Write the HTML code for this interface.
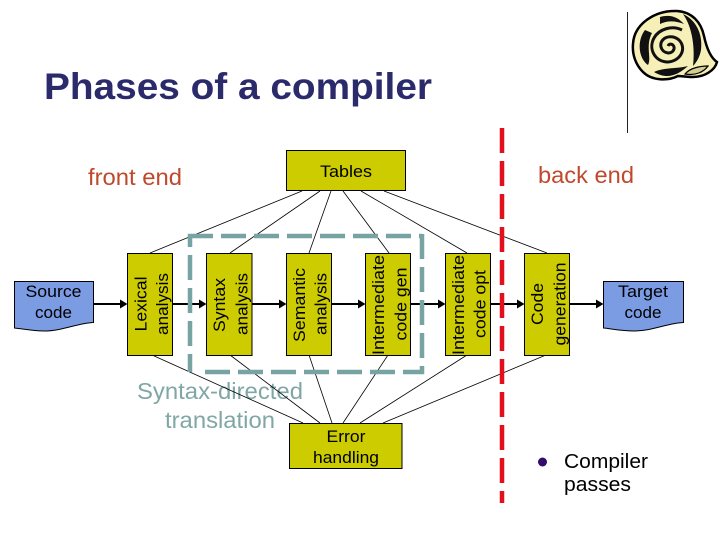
<!DOCTYPE html>
<html><head><meta charset="utf-8"><style>
html,body{margin:0;padding:0;background:#fff;width:720px;height:540px;overflow:hidden}
svg{display:block}
text{font-family:"Liberation Sans",sans-serif}
.l{font-size:17px;fill:#000;text-anchor:middle}
.b{fill:#cccc00;stroke:#000;stroke-width:1}
.d{fill:#7b9be2;stroke:#000;stroke-width:1}
.t{stroke:#000;stroke-width:.8;fill:none}
.a{stroke:#000;stroke-width:2;fill:none}
.f{stroke:#77a3a3;stroke-width:4.500;stroke-dasharray:25 8;fill:none}
</style></head><body>
<svg width="720" height="540" viewBox="0 0 720 540" xmlns="http://www.w3.org/2000/svg">
<line x1="627.500" y1="12" x2="627.500" y2="133" stroke="#222" stroke-width="1"/>
<!-- scroll -->
<path d="M633 44C634 24 655 10 677 11C692 12 701 22 704 36C707 50 711 58 717 62C715 70 705 77 693 77C686 77 682 76 678 76C668 81 652 81 643 72C636 65 632 55 633 44Z" fill="#f6f0b8" stroke="#000" stroke-width="2.500"/>
<path d="M683 14C696 20 703 34 701 50C700 56 697 62 693 66C695 50 693 28 683 14Z" fill="#111"/>
<path d="M645 30C637 40 638 58 648 65C652 58 645 46 652 33Z" fill="#111"/>
<path d="M654 72C667 80 678 75 688 66C677 69 665 67 654 72Z" fill="#111"/>
<path d="M660 17C670 14 678 17 684 24C676 21 668 20 660 24Z" fill="#111"/>
<path d="M668 46C670 42 675 45 674 49C672 55 663 54 661 47C659 38 671 33 679 40C687 48 681 61 668 62C655 62 648 49 654 38C659 29 672 25 682 30" fill="none" stroke="#111" stroke-width="3"/>
<path d="M685 74C690 68 700 66 708 66C704 72 695 76 685 74Z" fill="#d4ce94" stroke="#000" stroke-width="1.200"/>
<text x="44" y="99" font-size="37" font-weight="bold" fill="#2b2a6b" textLength="388" lengthAdjust="spacingAndGlyphs">Phases of a compiler</text>
<text x="88" y="185" font-size="23" fill="#c0482c" textLength="94" lengthAdjust="spacingAndGlyphs">front end</text>
<text x="538" y="183" font-size="23" fill="#c0482c" textLength="96" lengthAdjust="spacingAndGlyphs">back end</text>

<text x="137" y="399" font-size="23" fill="#80a6a6" textLength="166" lengthAdjust="spacingAndGlyphs">Syntax-directed</text>
<text x="165" y="428" font-size="23" fill="#80a6a6" textLength="110" lengthAdjust="spacingAndGlyphs">translation</text>

<!-- arrows -->
<g class="a">
<line x1="93" y1="304" x2="122" y2="304"/><line x1="172" y1="304" x2="201" y2="304"/><line x1="252" y1="304" x2="281" y2="304"/><line x1="331" y1="304" x2="360" y2="304"/><line x1="410" y1="304" x2="440" y2="304"/><line x1="490" y1="304" x2="519" y2="304"/><line x1="569" y1="304" x2="598" y2="304"/>
</g>
<g fill="#000">
<path d="M120 299.500L127.500 304L120 308.500Z"/><path d="M199 299.500L206.500 304L199 308.500Z"/><path d="M279 299.500L286.500 304L279 308.500Z"/><path d="M358 299.500L365.500 304L358 308.500Z"/><path d="M438 299.500L445.500 304L438 308.500Z"/><path d="M517 299.500L524.500 304L517 308.500Z"/><path d="M596 299.500L603.500 304L596 308.500Z"/>
</g>

<!-- connectors -->
<g class="t">
<line x1="302" y1="191" x2="150" y2="253"/><line x1="320" y1="191" x2="230" y2="253"/><line x1="331" y1="191" x2="309" y2="253"/><line x1="343" y1="191" x2="389" y2="253"/><line x1="361" y1="191" x2="467" y2="253"/><line x1="384" y1="191" x2="547" y2="253"/>
<line x1="152" y1="355" x2="303" y2="423"/><line x1="230" y1="355" x2="320" y2="423"/><line x1="309" y1="355" x2="332" y2="423"/><line x1="388" y1="355" x2="343" y2="423"/><line x1="467" y1="355" x2="360" y2="423"/><line x1="546" y1="355" x2="383" y2="423"/>
</g>

<!-- boxes -->
<rect class="b" x="286.500" y="150.500" width="119" height="40"/>
<rect class="b" x="127.500" y="253.500" width="45" height="102"/>
<rect class="b" x="206.500" y="253.500" width="45.500" height="102"/>
<rect class="b" x="286.500" y="253.500" width="45" height="102"/>
<rect class="b" x="365.500" y="253.500" width="45" height="102"/>
<rect class="b" x="445.500" y="253.500" width="45" height="102"/>
<rect class="b" x="524.500" y="253.500" width="45" height="102"/>
<rect class="b" x="289.500" y="423.500" width="112.500" height="45"/>
<path class="d" d="M14.500 281.500H93.500V322.500C78 323 62 331 44 331C32 331 24 329 14.500 328Z"/>
<path class="d" d="M603.500 281.500H683.500V322.500C668 323 652 331 634 331C622 331 613 329 603.500 328Z"/>

<!-- dashed frames -->
<line class="f" x1="188" y1="236" x2="422" y2="236"/>
<line class="f" x1="422" y1="234" x2="422" y2="374"/>
<line class="f" x1="205" y1="372" x2="424" y2="372"/>
<line class="f" x1="190" y1="234" x2="190" y2="372" stroke-dashoffset="12"/>
<line x1="502" y1="128" x2="502" y2="503" stroke="#e2101c" stroke-width="4.500" stroke-dasharray="25 8"/>

<!-- labels -->
<text class="l" x="346" y="177" textLength="52" lengthAdjust="spacingAndGlyphs">Tables</text>
<text class="l" x="53.500" y="297" textLength="56" lengthAdjust="spacingAndGlyphs">Source</text><text class="l" x="53.500" y="318" textLength="37" lengthAdjust="spacingAndGlyphs">code</text>
<text class="l" x="643" y="297" textLength="50" lengthAdjust="spacingAndGlyphs">Target</text><text class="l" x="643" y="318" textLength="37" lengthAdjust="spacingAndGlyphs">code</text>
<text class="l" x="346" y="442" textLength="39" lengthAdjust="spacingAndGlyphs">Error</text><text class="l" x="346" y="463" textLength="66" lengthAdjust="spacingAndGlyphs">handling</text>
<text class="l" transform="translate(146.500 304) rotate(-90)" textLength="55" lengthAdjust="spacingAndGlyphs">Lexical</text>
<text class="l" transform="translate(168 304) rotate(-90)" textLength="62" lengthAdjust="spacingAndGlyphs">analysis</text>
<text class="l" transform="translate(225 305) rotate(-90)" textLength="54" lengthAdjust="spacingAndGlyphs">Syntax</text>
<text class="l" transform="translate(247.500 304) rotate(-90)" textLength="62" lengthAdjust="spacingAndGlyphs">analysis</text>
<text class="l" transform="translate(305 305) rotate(-90)" textLength="74" lengthAdjust="spacingAndGlyphs">Semantic</text>
<text class="l" transform="translate(326.500 304) rotate(-90)" textLength="62" lengthAdjust="spacingAndGlyphs">analysis</text>
<text class="l" transform="translate(384 305) rotate(-90)" textLength="100" lengthAdjust="spacingAndGlyphs">Intermediate</text>
<text class="l" transform="translate(406.500 304) rotate(-90)" textLength="73" lengthAdjust="spacingAndGlyphs">code gen</text>
<text class="l" transform="translate(464 305) rotate(-90)" textLength="100" lengthAdjust="spacingAndGlyphs">Intermediate</text>
<text class="l" transform="translate(485.500 304) rotate(-90)" textLength="68" lengthAdjust="spacingAndGlyphs">code opt</text>
<text class="l" transform="translate(543 304) rotate(-90)" textLength="42" lengthAdjust="spacingAndGlyphs">Code</text>
<text class="l" transform="translate(565.500 304) rotate(-90)" textLength="83" lengthAdjust="spacingAndGlyphs">generation</text>
<circle cx="542.500" cy="462" r="4.500" fill="#330d6b"/>
<text x="564" y="468" font-size="20" fill="#000" textLength="84" lengthAdjust="spacingAndGlyphs">Compiler</text>
<text x="564" y="491" font-size="20" fill="#000" textLength="67" lengthAdjust="spacingAndGlyphs">passes</text>
</svg>
</body></html>
